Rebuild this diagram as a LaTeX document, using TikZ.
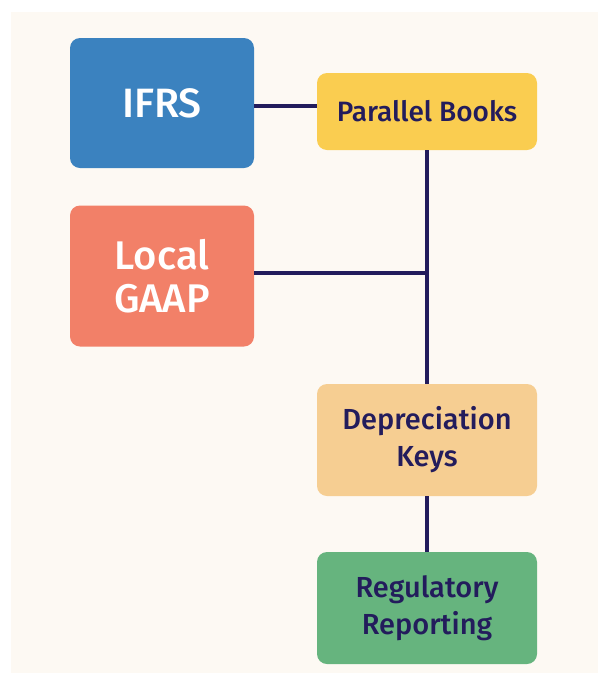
\documentclass[tikz,border=0pt]{standalone}
\usepackage{fontspec}
\setmainfont{Fira Sans}[UprightFont=* Medium]
\usetikzlibrary{calc}
\definecolor{cream}{HTML}{FDF9F3}
\definecolor{ink}{HTML}{231C5C}
\definecolor{ifrsblue}{HTML}{3B82BF}
\definecolor{booksyellow}{HTML}{FACD50}
\definecolor{gaapred}{HTML}{F28068}
\definecolor{keysorange}{HTML}{F6CE92}
\definecolor{reggreen}{HTML}{66B47E}
\tikzset{
  box/.style={rounded corners=10pt, align=center, inner sep=0pt},
  bigbox/.style={box, minimum width=184pt, minimum height=130pt, text=white,
    font=\fontsize{40}{43}\selectfont},
  smallbox/.style={box, minimum width=220pt, minimum height=112pt, text=ink,
    font=\fontsize{29}{37}\selectfont},
  link/.style={draw=ink, line width=3.8pt},
}
\begin{document}
\begin{tikzpicture}[x=1pt, y=1pt]

  \useasboundingbox (0,0) rectangle (598,-673);
  \fill[cream] (11,-12) rectangle (598,-673);

  %% left column
  \node[bigbox, fill=ifrsblue, font=\fontsize{41}{43}\selectfont] (ifrs) at (162,-103) {IFRS};
  \node[bigbox, fill=gaapred, minimum height=141pt] (gaap) at (162,-276) {Local\\GAAP};

  %% right column
  \node[smallbox, fill=booksyellow, minimum height=77pt, font=\fontsize{28}{34}\selectfont]
    (books) at (427,-111.5) {Parallel Books};
  \node[smallbox, fill=keysorange] (keys) at (427,-440) {Depreciation\\Keys};
  \node[smallbox, fill=reggreen] (reg) at (427,-608) {Regulatory\\Reporting};

  \coordinate (ifrsout) at ($(ifrs.east)+(0,-3)$);
  \coordinate (gaapout) at ($(gaap.east)+(0,3)$);

  \draw[link] (ifrsout) -- (ifrsout -| books.west); % IFRS->books
  \draw[link] (books.south) -- (keys.north); % books->keys
  \draw[link] (gaapout) -- (gaapout -| books.south); % GAAP->trunk
  \draw[link] (keys.south) -- (reg.north); % keys->reg

\end{tikzpicture}
\end{document}
